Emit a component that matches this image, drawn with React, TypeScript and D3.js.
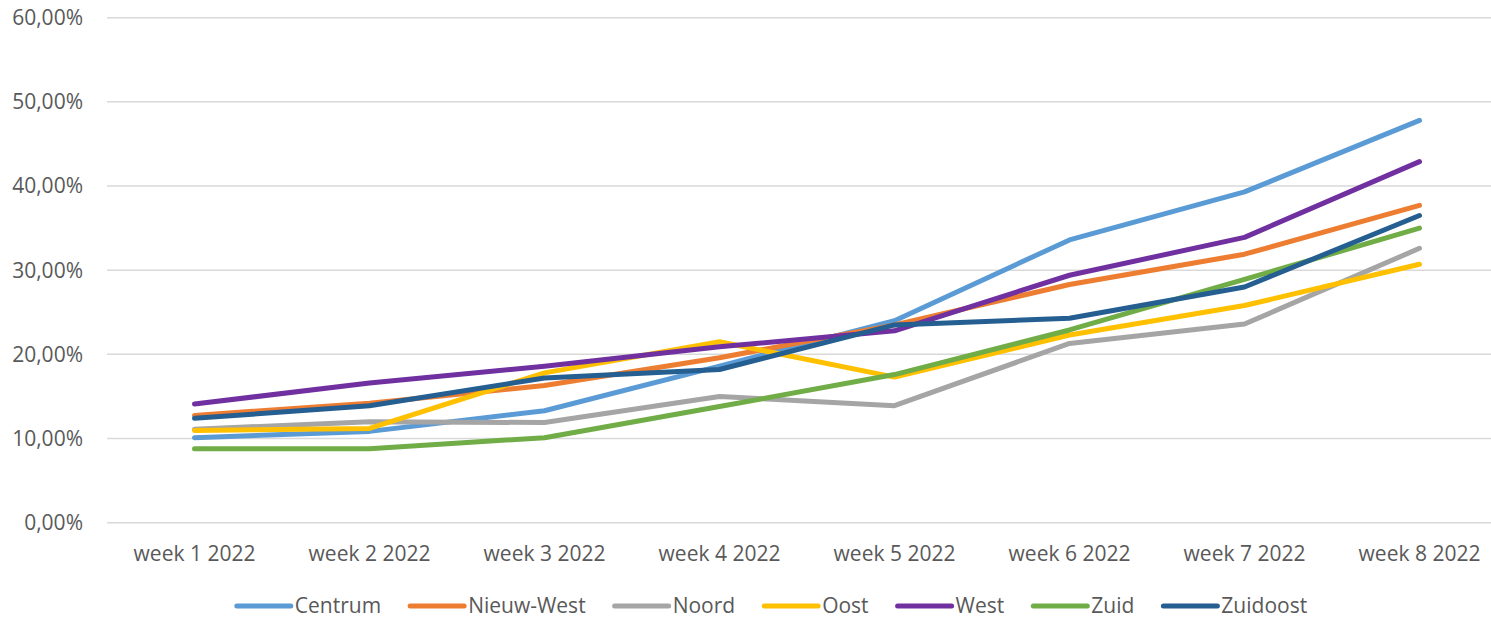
import React, { useEffect, useRef } from "react";
import * as d3 from "d3";

const weeks = ["week 1 2022", "week 2 2022", "week 3 2022", "week 4 2022", "week 5 2022", "week 6 2022", "week 7 2022", "week 8 2022"];
const seriesNames = ["Centrum", "Nieuw-West", "Noord", "Oost", "West", "Zuid", "Zuidoost"];
const seriesColors = ["#5B9BD5", "#ED7D31", "#A5A5A5", "#FFC000", "#7030A0", "#70AD47", "#255E91"];
const centrum = [10.1, 10.85, 13.3, 18.6, 24.0, 33.6, 39.3, 47.8];
const nieuwWest = [12.75, 14.2, 16.3, 19.6, 23.5, 28.3, 31.9, 37.7];
const noord = [11.1, 12.0, 11.9, 15.0, 13.9, 21.3, 23.6, 32.6];
const oost = [10.95, 11.2, 17.8, 21.5, 17.3, 22.3, 25.8, 30.7];
const west = [14.1, 16.6, 18.6, 20.9, 22.8, 29.4, 33.9, 42.9];
const zuid = [8.8, 8.8, 10.1, 13.8, 17.6, 22.9, 28.9, 35.0];
const zuidoost = [12.4, 13.9, 17.2, 18.2, 23.5, 24.3, 28.0, 36.5];
const yTicks = [0, 10, 20, 30, 40, 50, 60];

const allSeries = [centrum, nieuwWest, noord, oost, west, zuid, zuidoost];

const W = 1491;
const H = 618;
const FONT = "'Open Sans', sans-serif";
const TEXT = "#595959";

export default function App() {
  const ref = useRef<SVGSVGElement | null>(null);

  useEffect(() => {
    const svg = d3.select(ref.current);
    svg.selectAll("*").remove();

    const x = d3.scaleBand<string>().domain(weeks).range([107, 1507]).padding(0);
    const cx = (w: string) => (x(w) as number) + x.bandwidth() / 2;
    const y = d3.scaleLinear().domain([0, 60]).range([522.7, 17.7]);

    // grid
    svg.append("g")
      .selectAll("line")
      .data(yTicks)
      .join("line")
      .attr("x1", 107)
      .attr("x2", W)
      .attr("y1", (d) => y(d))
      .attr("y2", (d) => y(d))
      .attr("stroke", "#D9D9D9")
      .attr("stroke-width", 1.5);

    // y labels
    svg.append("g")
      .selectAll("text")
      .data(yTicks)
      .join("text")
      .attr("x", 83)
      .attr("y", (d) => y(d))
      .attr("dy", "0.35em")
      .attr("text-anchor", "end")
      .attr("font-family", FONT)
      .attr("font-size", 21)
      .attr("fill", TEXT)
      .text((d) => d3.format(".2f")(d).replace(".", ",") + "%");

    // x labels
    svg.append("g")
      .selectAll("text")
      .data(weeks)
      .join("text")
      .attr("x", (d) => cx(d))
      .attr("y", 561)
      .attr("text-anchor", "middle")
      .attr("font-family", FONT)
      .attr("font-size", 21)
      .attr("fill", TEXT)
      .text((d) => d);

    const line = d3
      .line<number>()
      .x((_, i) => cx(weeks[i]))
      .y((d) => y(d));

    svg.append("g")
      .selectAll("path")
      .data(allSeries)
      .join("path")
      .attr("d", (d) => line(d) as string)
      .attr("fill", "none")
      .attr("stroke", (_, i) => seriesColors[i])
      .attr("stroke-width", 5)
      .attr("stroke-linecap", "round")
      .attr("stroke-linejoin", "round");

    // legend
    const lg = svg.append("g");
    const items = lg
      .selectAll("g")
      .data(seriesNames)
      .join("g");
    items
      .append("text")
      .attr("font-family", FONT)
      .attr("font-size", 21)
      .attr("fill", TEXT)
      .attr("y", 613)
      .text((d) => d);
    const widths: number[] = [];
    items.select("text").each(function () {
      widths.push((this as SVGTextElement).getComputedTextLength());
    });
    const lineLen = 54;
    const gapText = 4;
    const gapItem = 29;
    let total = 0;
    widths.forEach((w, i) => {
      total += lineLen + gapText + w + (i < widths.length - 1 ? gapItem : 0);
    });
    let pos = 772 - total / 2;
    items.each(function (_, i) {
      const g = d3.select(this);
      g.insert("line", "text")
        .attr("x1", pos)
        .attr("x2", pos + lineLen)
        .attr("y1", 606)
        .attr("y2", 606)
        .attr("stroke", seriesColors[i])
        .attr("stroke-width", 5)
        .attr("stroke-linecap", "round");
      g.select("text").attr("x", pos + lineLen + gapText);
      pos += lineLen + gapText + widths[i] + gapItem;
    });
  }, []);

  return (
    <svg
      ref={ref}
      width={W}
      height={H}
      style={{ position: "absolute", left: 0, top: 0, background: "#fff" }}
    />
  );
}
